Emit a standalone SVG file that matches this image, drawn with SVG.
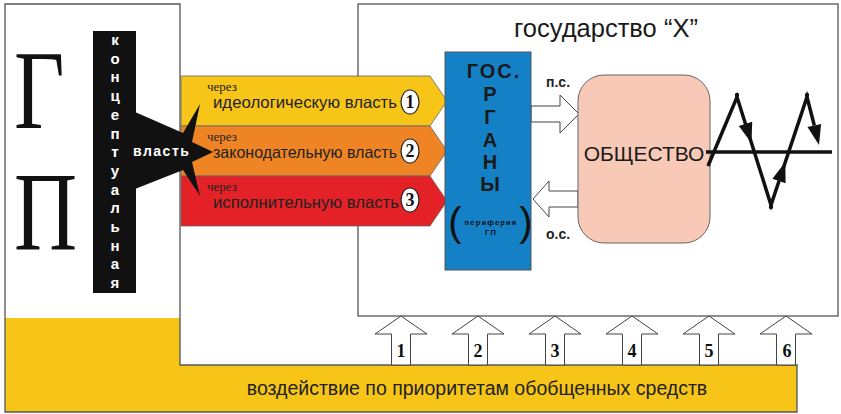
<svg xmlns="http://www.w3.org/2000/svg" width="841" height="414" viewBox="0 0 841 414">
<style>
.frame{fill:none;stroke:#555;stroke-width:1.3}
.hollow{fill:#fff;stroke:#444;stroke-width:1}
.band{stroke:#666;stroke-width:0.8}
.sans{font-family:"Liberation Sans",Arial,sans-serif}
.serif{font-family:"Liberation Serif","Times New Roman",serif}
.via{font-family:"Liberation Serif","Times New Roman",serif;font-size:13px;fill:#222}
.pw{font-family:"Liberation Sans",Arial,sans-serif;font-size:16.5px;fill:#222}
.num{font-family:"Liberation Serif","Times New Roman",serif;font-size:18px;font-weight:bold;fill:#111;text-anchor:middle}
.vert{font-family:"Liberation Sans",Arial,sans-serif;font-size:15px;font-weight:bold;fill:#fff;text-anchor:middle}
.org{font-family:"Liberation Sans",Arial,sans-serif;font-size:20px;font-weight:bold;fill:#1a1a1a;text-anchor:middle}
.zig{fill:none;stroke:#111;stroke-width:3.5;stroke-linejoin:miter}
</style>
<defs>
<polygon id="up" points="-9.5,49 -9.5,18 -26,18 0,0 26,18 9.5,18 9.5,49" class="hollow"/>
</defs>

<g id="background">
<rect x="5" y="4" width="175" height="314" fill="#fff"/>
<polygon points="5,318 180,318 180,365 797,365 797,412 5,412" fill="#F7C518"/>
<path class="frame" d="M797,365 L180,365 L180,4 L5,4 L5,412 L797,412 Z"/>
<text class="sans" x="477" y="395" font-size="19.5" fill="#222" text-anchor="middle">воздействие по приоритетам обобщенных средств</text>
</g>

<g id="state">
<rect x="358" y="4" width="480" height="312" fill="#fff" stroke="#555" stroke-width="1.3"/>
<text class="sans" x="606" y="37" font-size="25.5" fill="#1a1a1a" text-anchor="middle">государство “X”</text>
</g>

<g id="connectors">
<g id="influence-arrows">
<use href="#up" x="401" y="316"/>
<use href="#up" x="478" y="316"/>
<use href="#up" x="555" y="316"/>
<use href="#up" x="632" y="316"/>
<use href="#up" x="709" y="316"/>
<use href="#up" x="786" y="316"/>
<text class="num" x="401" y="357" font-size="21">1</text>
<text class="num" x="478" y="357" font-size="21">2</text>
<text class="num" x="555" y="357" font-size="21">3</text>
<text class="num" x="632" y="357" font-size="21">4</text>
<text class="num" x="709" y="357" font-size="21">5</text>
<text class="num" x="787" y="357" font-size="21">6</text>
</g>
<polygon class="hollow" points="531,106 560,106 560,95 579,114 560,133 560,122 531,122"/>
<polygon class="hollow" points="578,191 549,191 549,181 533,199 549,217 549,207 578,207"/>
<text class="sans" x="546" y="87" font-size="14" font-weight="bold" fill="#222">п.с.</text>
<text class="sans" x="546" y="239" font-size="14" font-weight="bold" fill="#222">о.с.</text>
</g>

<g id="power-ideological">
<polygon class="band" points="181,76 430,76 447,101 430,126 181,126" fill="#F7C518"/>
<text class="via" x="207" y="91">через</text>
<text class="pw" x="213" y="108" textLength="184" lengthAdjust="spacingAndGlyphs">идеологическую власть</text>
<ellipse cx="410" cy="102" rx="9" ry="12" fill="#fff" stroke="#222" stroke-width="1.2"/>
<text class="num" x="410" y="108">1</text>
</g>
<g id="power-legislative">
<polygon class="band" points="181,126 430,126 447,151 430,176 181,176" fill="#EF8424"/>
<text class="via" x="207" y="141">через</text>
<text class="pw" x="213" y="158" textLength="184" lengthAdjust="spacingAndGlyphs">законодательную власть</text>
<ellipse cx="410" cy="151" rx="9" ry="12" fill="#fff" stroke="#222" stroke-width="1.2"/>
<text class="num" x="410" y="157">2</text>
</g>
<g id="power-executive">
<polygon class="band" points="181,176 430,176 447,201 430,226 181,226" fill="#E42127"/>
<text class="via" x="207" y="191">через</text>
<text class="pw" x="213" y="208" textLength="186" lengthAdjust="spacingAndGlyphs">исполнительную власть</text>
<ellipse cx="410" cy="200" rx="9" ry="12" fill="#fff" stroke="#222" stroke-width="1.2"/>
<text class="num" x="410" y="206">3</text>
</g>

<g id="gp">
<text class="serif" transform="translate(14,128) scale(0.78,1)" font-size="112" fill="#111">Г</text>
<text class="serif" transform="translate(14,250) scale(0.78,1)" font-size="112" fill="#111">П</text>
</g>

<g id="conceptual-power">
<rect x="93" y="31" width="43" height="262" fill="#111"/>
<polygon points="135,112 183,133 200,104 192,142 213,152 192,162 200,196 183,170 135,189" fill="#111"/>
<text class="vert" x="115" y="45">к</text>
<text class="vert" x="115" y="63.7">о</text>
<text class="vert" x="115" y="82.4">н</text>
<text class="vert" x="115" y="101.1">ц</text>
<text class="vert" x="115" y="119.8">е</text>
<text class="vert" x="115" y="138.5">п</text>
<text class="vert" x="115" y="157.2">т</text>
<text class="vert" x="115" y="175.9">у</text>
<text class="vert" x="115" y="194.6">а</text>
<text class="vert" x="115" y="213.3">л</text>
<text class="vert" x="115" y="232">ь</text>
<text class="vert" x="115" y="250.7">н</text>
<text class="vert" x="115" y="269.4">а</text>
<text class="vert" x="115" y="288.1">я</text>
<text class="sans" x="133" y="156" font-size="14" font-weight="bold" fill="#fff" letter-spacing="1.5">власть</text>
</g>

<g id="gos-organy">
<rect x="445" y="52" width="86" height="218" fill="#1480C6" stroke="#555" stroke-width="1"/>
<text class="org" x="494" y="78" letter-spacing="2">ГОС.</text>
<text class="org" x="490" y="101">Р</text>
<text class="org" x="490" y="124">Г</text>
<text class="org" x="490" y="147">А</text>
<text class="org" x="490" y="169">Н</text>
<text class="org" x="490" y="191">Ы</text>
<text class="sans" x="455" y="236" font-size="40" fill="#111" text-anchor="middle">(</text>
<text class="sans" x="526" y="236" font-size="40" fill="#111" text-anchor="middle">)</text>
<text class="sans" x="491" y="225" font-size="7.5" font-weight="bold" fill="#111" text-anchor="middle" letter-spacing="1.2">периферия</text>
<text class="sans" x="491" y="235" font-size="7.5" font-weight="bold" fill="#111" text-anchor="middle" letter-spacing="1.2">ГП</text>
</g>

<g id="society">
<rect x="578" y="75" width="132" height="168" rx="26" ry="26" fill="#F8C9B6" stroke="#666" stroke-width="1"/>
<text class="sans" x="644" y="161" font-size="21" fill="#1a1a1a" text-anchor="middle">ОБЩЕСТВО</text>
</g>

<g id="dynamics">
<line x1="706" y1="152" x2="832" y2="152" stroke="#111" stroke-width="3.5"/>
<polyline class="zig" points="708,166 737,97 771,205 807,97 814.3,125.5"/>
<polygon points="751.5,143 752.2,121.8 738.8,126" fill="#111"/>
<polygon points="785.3,162 785.6,183.2 772.4,178.8" fill="#111"/>
<polygon points="819,145 821.1,123.9 807.5,127.1" fill="#111"/>
<circle cx="737" cy="95" r="2.2" fill="#111"/>
<circle cx="771" cy="207" r="2.2" fill="#111"/>
<circle cx="807" cy="95" r="2.2" fill="#111"/>
</g>
</svg>
